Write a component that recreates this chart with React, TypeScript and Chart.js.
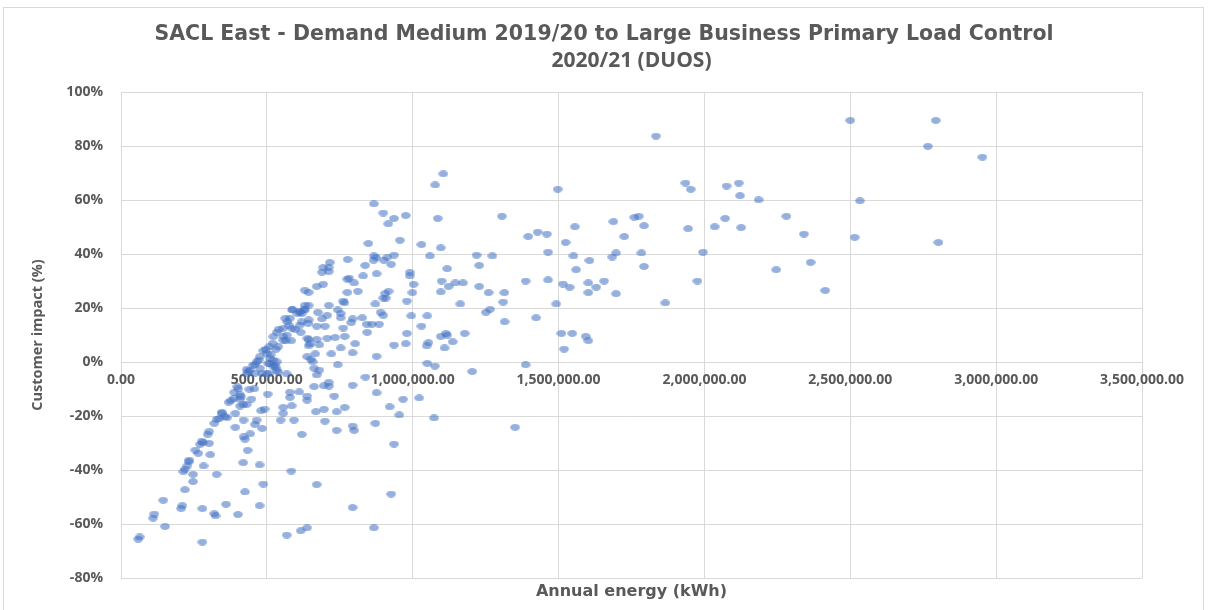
import { useEffect, useRef } from "react";
import { Chart, registerables } from "chart.js";

Chart.register(...registerables);

const chartTitleLine1 = "SACL East - Demand Medium 2019/20 to Large Business Primary Load Control";
const chartTitleLine2 = "2020/21 (DUOS)";
const xAxisTitle = "Annual energy (kWh)";
const yAxisTitle = "Customer impact (%)";
const xTickValues = [0, 500000, 1000000, 1500000, 2000000, 2500000, 3000000, 3500000];
const yTickValues = [-80, -60, -40, -20, 0, 20, 40, 60, 80, 100];

// Larger sites (mostly above 1,000,000 kWh)
const energyLarge = [
  2500e3, 2793e3, 2766e3, 2953e3, 2533e3, 2341e3, 2515e3, 2802e3, 2364e3, 2414e3,
  1834e3, 1105e3, 1077e3, 1497e3, 1935e3, 1953e3, 2076e3, 2118e3, 2122e3, 2186e3,
  1086e3, 1306e3, 1760e3, 1775e3, 1688e3, 1556e3, 1793e3, 1944e3, 2035e3, 2071e3,
  2126e3, 2281e3, 2246e3, 1396e3, 1428e3, 1460e3, 1524e3, 1725e3, 1096e3, 1059e3,
  1219e3, 1273e3, 1464e3, 1551e3, 1606e3, 1684e3, 1697e3, 1784e3, 1995e3, 1793e3,
  1118e3, 1228e3, 1560e3, 1099e3, 1096e3, 1123e3, 1146e3, 1172e3, 1228e3, 1260e3,
  1314e3, 1387e3, 1464e3, 1515e3, 1538e3, 1602e3, 1602e3, 1629e3, 1656e3, 1697e3,
  1976e3, 1163e3, 1251e3, 1265e3, 1310e3, 1315e3, 1423e3, 1492e3, 1866e3, 1050e3,
  1096e3, 1114e3, 1118e3, 1048e3, 1054e3, 1137e3, 1109e3, 1178e3, 1510e3, 1547e3,
  1519e3, 1593e3, 1602e3, 1076e3, 1387e3, 1204e3, 1073e3, 1351e3,
];
const impactLarge = [
  89.5, 89.5, 79.9, 75.9, 59.7, 47.4, 46.2, 44.3, 36.9, 26.5,
  83.7, 69.7, 65.6, 64.0, 66.3, 64.0, 65.2, 66.3, 61.6, 60.1,
  53.2, 54.0, 53.6, 54.0, 52.0, 50.1, 50.5, 49.4, 50.1, 53.2,
  49.8, 54.0, 34.2, 46.5, 48.1, 47.4, 44.3, 46.5, 42.3, 39.3,
  39.6, 39.3, 40.7, 39.3, 37.6, 38.9, 40.4, 40.4, 40.7, 35.4,
  34.6, 35.8, 34.2, 30.0, 26.0, 28.0, 29.3, 29.3, 28.0, 25.7,
  25.7, 30.0, 30.4, 28.9, 27.7, 29.3, 25.7, 27.7, 30.0, 25.3,
  30.0, 21.5, 18.4, 19.5, 22.2, 14.9, 16.4, 21.5, 21.9, 17.1,
  9.5, 10.6, 9.9, 6.0, 7.2, 7.5, 5.2, 10.6, 10.6, 10.6,
  4.8, 9.5, 7.9, -1.5, -1.0, -3.5, -20.7, -24.2,
];

// Mid-size sites (roughly 550,000 - 1,050,000 kWh, positive impact)
const energyMid = [
  976e3, 956e3, 1030e3, 990e3, 990e3, 1003e3, 999e3, 980e3, 995e3, 1030e3,
  980e3, 976e3, 1050e3, 867e3, 899e3, 936e3, 916e3, 848e3, 716e3, 777e3,
  867e3, 874e3, 913e3, 936e3, 901e3, 866e3, 837e3, 926e3, 693e3, 712e3,
  689e3, 712e3, 876e3, 830e3, 776e3, 782e3, 799e3, 671e3, 693e3, 630e3,
  643e3, 776e3, 812e3, 905e3, 917e3, 899e3, 908e3, 872e3, 762e3, 766e3,
  712e3, 675e3, 689e3, 707e3, 630e3, 630e3, 643e3, 588e3, 613e3, 620e3,
  743e3, 753e3, 753e3, 794e3, 827e3, 789e3, 890e3, 899e3, 762e3, 803e3,
  842e3, 860e3, 885e3, 844e3, 671e3, 643e3, 643e3, 680e3, 707e3, 734e3,
  767e3, 753e3, 721e3, 794e3, 876e3, 936e3, 743e3, 699e3, 568e3, 619e3,
];
const impactMid = [
  54.3, 45.1, 43.5, 33.2, 31.9, 28.8, 25.7, 22.6, 17.1, 13.3,
  10.6, 6.8, -0.5, 58.6, 55.2, 53.2, 51.2, 43.9, 36.9, 38.0,
  39.3, 38.8, 38.8, 39.6, 37.7, 37.7, 35.8, 36.2, 35.0, 35.0,
  33.3, 33.5, 32.7, 31.9, 30.7, 31.1, 29.3, 28.0, 28.8, 26.6,
  25.8, 25.8, 26.2, 25.4, 26.2, 23.7, 23.7, 21.5, 22.6, 21.9,
  21.0, 18.4, 16.0, 17.3, 21.0, 19.3, 21.0, 19.5, 18.8, 18.0,
  19.3, 18.0, 16.4, 16.0, 16.4, 14.6, 18.4, 17.3, 12.6, 6.8,
  14.0, 14.0, 14.0, 11.0, 13.3, 8.3, 6.0, 6.4, 8.8, 9.1,
  9.5, 5.2, 3.0, 3.4, 2.1, 6.3, -1.0, 13.3, 10.0, 14.9,
];

// Smaller sites near the rising edge around zero
const energySmall = [
  586e3, 613e3, 627e3, 613e3, 563e3, 575e3, 597e3, 616e3, 586e3, 540e3,
  534e3, 522e3, 556e3, 565e3, 584e3, 520e3, 508e3, 497e3, 488e3, 476e3,
  472e3, 453e3, 504e3, 520e3, 534e3, 513e3, 531e3, 638e3, 650e3, 666e3,
  643e3, 671e3, 431e3, 465e3, 556e3, 570e3, 579e3, 604e3, 642e3, 639e3,
  648e3, 556e3, 539e3, 511e3, 522e3, 528e3, 534e3, 499e3, 476e3, 459e3,
];
const impactSmall = [
  19.3, 18.4, 19.3, 13.7, 16.2, 13.7, 12.1, 11.0, 12.5, 12.1,
  11.0, 9.4, 9.4, 7.9, 7.9, 6.9, 5.7, 4.7, 4.2, 2.0,
  0.7, -1.1, -0.5, -1.5, 0.1, 2.7, 4.7, 2.0, 1.0, 3.0,
  15.6, 8.4, -2.7, 0.1, 12.5, 14.9, 16.2, 18.0, 14.3, 8.8,
  6.7, 8.1, 5.7, 1.4, 0.7, -1.1, -3.0, 3.2, -2.3, -4.2,
];

// Sites with a negative customer impact
const energyNegative = [
  59e3, 64e3, 110e3, 114e3, 151e3, 145e3, 206e3, 210e3, 219e3, 247e3,
  247e3, 214e3, 219e3, 227e3, 234e3, 232e3, 255e3, 265e3, 271e3, 277e3,
  281e3, 283e3, 302e3, 297e3, 302e3, 306e3, 279e3, 279e3, 320e3, 328e3,
  337e3, 346e3, 356e3, 369e3, 376e3, 328e3, 320e3, 324e3, 360e3, 401e3,
  392e3, 392e3, 388e3, 402e3, 408e3, 399e3, 408e3, 420e3, 420e3, 425e3,
  443e3, 434e3, 419e3, 425e3, 475e3, 475e3, 488e3, 459e3, 465e3, 484e3,
  480e3, 492e3, 419e3, 431e3, 447e3, 411e3, 457e3, 436e3, 442e3, 459e3,
  483e3, 499e3, 503e3, 511e3, 530e3, 539e3, 568e3, 568e3, 556e3, 556e3,
  547e3, 579e3, 579e3, 585e3, 593e3, 611e3, 620e3, 584e3, 638e3, 638e3,
  657e3, 662e3, 680e3, 671e3, 662e3, 668e3, 696e3, 699e3, 712e3, 713e3,
  695e3, 731e3, 739e3, 739e3, 767e3, 794e3, 794e3, 799e3, 794e3, 671e3,
  638e3, 616e3, 838e3, 876e3, 872e3, 867e3, 921e3, 954e3, 967e3, 1022e3,
  936e3, 926e3, 364e3, 345e3, 408e3, 387e3, 440e3, 431e3, 508e3,
];
const impactNegative = [
  -65.6, -64.8, -57.8, -56.3, -60.9, -51.2, -54.3, -53.2, -47.3, -44.3,
  -41.6, -40.6, -39.7, -38.5, -36.3, -37.0, -32.6, -33.8, -30.5, -29.3,
  -29.9, -38.5, -30.1, -26.8, -25.7, -34.3, -54.3, -66.7, -22.7, -21.2,
  -20.9, -18.6, -20.3, -14.9, -14.3, -41.6, -56.2, -57.0, -52.7, -56.5,
  -24.2, -19.0, -11.2, -9.9, -12.1, -9.1, -13.8, -21.5, -27.7, -28.6,
  -26.6, -32.7, -37.3, -48.1, -38.1, -53.2, -45.2, -23.1, -21.5, -24.6,
  -18.0, -17.4, -15.8, -15.7, -13.7, -12.8, -9.9, -3.6, -3.0, -1.0,
  -4.2, -4.4, -11.9, -0.7, -2.0, -3.8, -4.4, -64.1, -16.8, -19.0,
  -21.5, -11.2, -13.1, -16.2, -21.5, -11.1, -26.8, -40.4, -12.6, -14.1,
  0.1, -2.3, -3.0, -4.8, -9.1, -18.4, -17.5, -21.9, -7.5, -8.9,
  -8.8, -12.6, -18.4, -25.3, -16.8, -8.6, -23.7, -25.3, -53.9, -45.4,
  -61.4, -62.5, -5.6, -11.4, -22.7, -61.4, -16.6, -19.6, -13.8, -13.3,
  -30.4, -48.9, -20.6, -19.0, -16.3, -13.4, -10.1, -4.4, -4.2,
];

const TEXT = "#595959";
const GRID = "#d9d9d9";
const OPEN = "'Open Sans', 'Liberation Sans', sans-serif";
const WIDE = "'DejaVu Sans', 'Open Sans', sans-serif";

function pairUp(xs: number[], ys: number[]) {
  return xs.map((x, i) => ({ x, y: ys[i] }));
}

function makeMarker() {
  const c = document.createElement("canvas");
  c.width = 10;
  c.height = 7;
  const g = c.getContext("2d")!;
  g.fillStyle = "rgba(68,114,196,0.56)";
  g.beginPath();
  g.ellipse(5, 3.5, 4.8, 3.4, 0, 0, Math.PI * 2);
  g.fill();
  return c;
}

export default function App() {
  const ref = useRef<HTMLCanvasElement | null>(null);

  useEffect(() => {
    if (!ref.current) return;
    const marker = makeMarker();
    const points = [
      ...pairUp(energyLarge, impactLarge),
      ...pairUp(energyMid, impactMid),
      ...pairUp(energySmall, impactSmall),
      ...pairUp(energyNegative, impactNegative),
    ];
    const chart = new Chart(ref.current, {
      type: "scatter",
      data: {
        datasets: [
          {
            data: points,
            pointStyle: marker as any,
            pointRadius: 5,
            pointHoverRadius: 5,
            backgroundColor: "rgba(68,114,196,0.56)",
            borderColor: "rgba(68,114,196,0.56)",
            xAxisID: "x",
            yAxisID: "y",
          },
        ],
      },
      options: {
        animation: false,
        responsive: false,
        devicePixelRatio: 1,
        events: [],
        layout: { padding: { left: 0, right: 0, top: 10, bottom: 0 } },
        plugins: {
          legend: { display: false },
          tooltip: { enabled: false },
          title: {
            display: true,
            text: chartTitleLine1,
            color: TEXT,
            font: { family: WIDE, size: 20.5, weight: "bold", lineHeight: 1.27 } as any,
            padding: { top: 12, bottom: 0 } as any,
          },
          subtitle: {
            display: true,
            position: "top",
            fullSize: false,
            text: chartTitleLine2,
            color: TEXT,
            font: { family: OPEN, size: 21, weight: "bold", lineHeight: 1.24 } as any,
            padding: { top: 0, bottom: 18 } as any,
          },
        },
        scales: {
          x: {
            type: "linear",
            position: { y: 0 } as any,
            min: xTickValues[0],
            max: xTickValues[xTickValues.length - 1],
            afterBuildTicks: (s: any) => {
              s.ticks = xTickValues.map((value) => ({ value }));
            },
            ticks: {
              color: TEXT,
              font: { family: OPEN, size: 14, weight: "bold" } as any,
              padding: 10,
              maxRotation: 0,
              autoSkip: false,
              callback: (v: any) =>
                Number(v).toLocaleString("en-US", {
                  minimumFractionDigits: 2,
                  maximumFractionDigits: 2,
                }),
            },
            grid: { color: GRID, lineWidth: 1, drawTicks: false },
            border: { display: false },
          },
          xTitle: {
            type: "linear",
            position: "bottom",
            min: xTickValues[0],
            max: xTickValues[xTickValues.length - 1],
            grid: { display: false, drawTicks: false },
            border: { display: false },
            ticks: { display: false },
            afterFit: (s: any) => {
              s.height = 32;
            },
            title: {
              display: true,
              text: xAxisTitle,
              color: TEXT,
              font: { family: WIDE, size: 16, weight: "bold", lineHeight: 1.2 } as any,
              padding: { top: 0, bottom: 8.4 } as any,
            },
          },
          y: {
            type: "linear",
            position: "left",
            min: yTickValues[0],
            max: yTickValues[yTickValues.length - 1],
            afterBuildTicks: (s: any) => {
              s.ticks = yTickValues.map((value) => ({ value }));
            },
            afterFit: (s: any) => {
              s.width = 121;
            },
            ticks: {
              color: TEXT,
              font: { family: OPEN, size: 14, weight: "bold" } as any,
              padding: 18,
              autoSkip: false,
              callback: (v: any) => `${v}%`,
            },
            grid: { color: GRID, lineWidth: 1, drawTicks: false },
            border: { display: false },
            title: {
              display: true,
              text: yAxisTitle,
              color: TEXT,
              font: { family: OPEN, size: 14.5, weight: "bold", lineHeight: 1.2 } as any,
              padding: { top: 29, bottom: 0 } as any,
            },
          },
          rightGap: {
            type: "linear",
            position: "right",
            min: yTickValues[0],
            max: yTickValues[yTickValues.length - 1],
            grid: { display: false, drawTicks: false },
            border: { display: false },
            ticks: { display: false },
            afterFit: (s: any) => {
              s.width = 66;
            },
          },
        },
      } as any,
    });
    return () => chart.destroy();
  }, []);

  return (
    <div style={{ position: "fixed", left: 0, top: 0, width: 1208, height: 610, background: "#fff", overflow: "hidden" }}>
      <div
        style={{
          position: "absolute",
          left: 3,
          top: 7,
          width: 1201,
          height: 640,
          border: "1px solid #d9d9d9",
          boxSizing: "border-box",
        }}
      />
      <canvas ref={ref} width={1208} height={610} style={{ position: "absolute", left: 0, top: 0, width: 1208, height: 610 }} />
    </div>
  );
}
